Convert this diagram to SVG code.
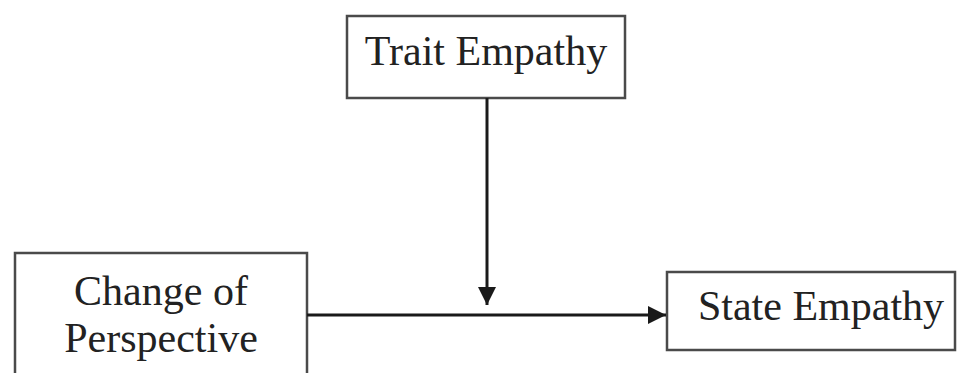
<svg xmlns="http://www.w3.org/2000/svg" width="957" height="373" viewBox="0 0 957 373">
<style>
.box{fill:#fff;stroke:#4a4a4a;stroke-width:2.5}
.lbl{font-family:"Liberation Serif","Times New Roman",serif;font-size:42px;fill:#222;text-anchor:middle}
.conn{stroke:#1a1a1a;stroke-width:3;fill:none}
</style>
<defs>
<marker id="ah" viewBox="0 0 10 10" refX="10" refY="5" markerWidth="6" markerHeight="6" markerUnits="strokeWidth" orient="auto">
<path d="M0,0 L10,5 L0,10 z" fill="#1a1a1a"/>
</marker>
</defs>
<rect width="957" height="373" fill="#fff"/>
<g id="trait">
<rect class="box" x="347" y="16" width="278" height="82"/>
<text class="lbl" x="486" y="65">Trait Empathy</text>
</g>
<g id="change">
<rect class="box" x="15" y="253" width="292" height="130"/>
<text class="lbl" x="161" y="305">Change of</text>
<text class="lbl" x="161" y="352">Perspective</text>
</g>
<g id="state">
<rect class="box" x="667" y="272" width="288" height="78"/>
<text class="lbl" x="821" y="320">State Empathy</text>
</g>
<g id="connectors">
<line class="conn" x1="487" y1="98" x2="487" y2="305" marker-end="url(#ah)"/>
<line class="conn" x1="307" y1="315" x2="666" y2="315" marker-end="url(#ah)"/>
</g>
</svg>
